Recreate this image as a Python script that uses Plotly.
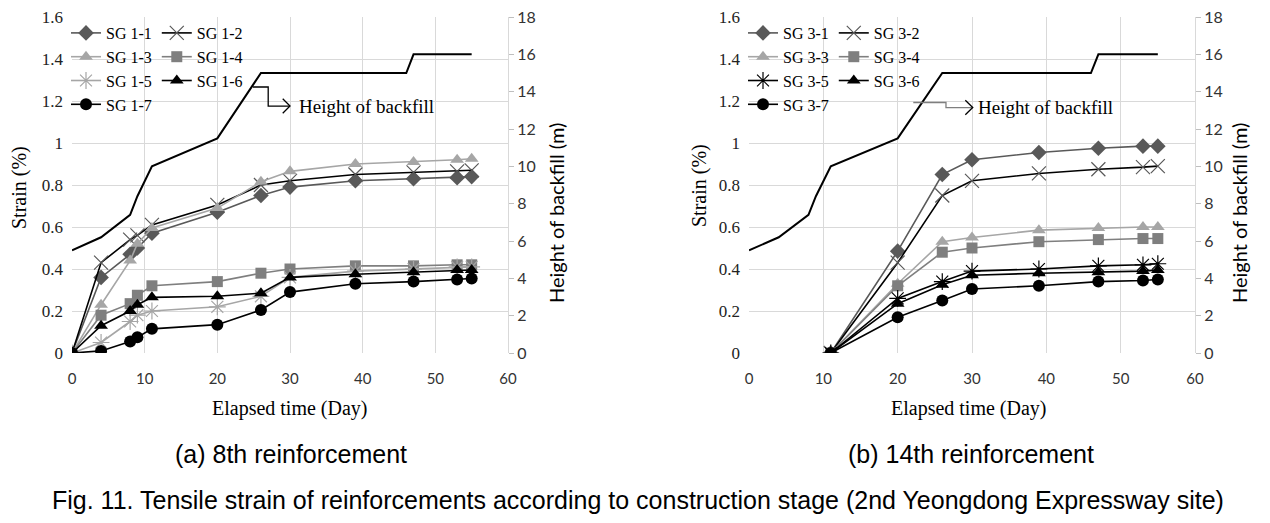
import plotly.graph_objects as go

# ---------------- data ----------------
days_a = [0, 4, 8, 9, 11, 20, 26, 30, 39, 47, 53, 55]
sg1_1 = [0, 0.36, 0.47, 0.50, 0.57, 0.67, 0.75, 0.79, 0.82, 0.83, 0.835, 0.84]
sg1_2 = [0, 0.43, 0.54, 0.56, 0.61, 0.705, 0.80, 0.82, 0.85, 0.86, 0.865, 0.87]
sg1_3 = [0, 0.23, 0.44, 0.52, 0.595, 0.69, 0.815, 0.865, 0.90, 0.91, 0.92, 0.925]
sg1_4 = [0, 0.18, 0.235, 0.275, 0.32, 0.34, 0.38, 0.40, 0.415, 0.415, 0.42, 0.42]
sg1_5 = [0, 0.05, 0.15, 0.18, 0.20, 0.22, 0.27, 0.36, 0.39, 0.40, 0.41, 0.41]
sg1_6 = [0, 0.13, 0.20, 0.23, 0.265, 0.27, 0.285, 0.36, 0.375, 0.385, 0.395, 0.395]
sg1_7 = [0, 0.01, 0.055, 0.075, 0.115, 0.135, 0.205, 0.29, 0.33, 0.34, 0.35, 0.355]

days_b = [11, 20, 26, 30, 39, 47, 53, 55]
sg3_1 = [0, 0.485, 0.85, 0.92, 0.955, 0.975, 0.985, 0.985]
sg3_2 = [0, 0.43, 0.75, 0.82, 0.855, 0.875, 0.885, 0.89]
sg3_3 = [0, 0.33, 0.53, 0.55, 0.585, 0.595, 0.60, 0.60]
sg3_4 = [0, 0.32, 0.48, 0.50, 0.53, 0.54, 0.545, 0.545]
sg3_5 = [0, 0.26, 0.34, 0.39, 0.40, 0.415, 0.42, 0.425]
sg3_6 = [0, 0.235, 0.325, 0.37, 0.38, 0.385, 0.39, 0.395]
sg3_7 = [0, 0.17, 0.25, 0.305, 0.32, 0.34, 0.345, 0.35]

backfill_days = [0, 4, 8, 9, 11, 20, 26, 46, 47, 55]
backfill_height = [5.5, 6.2, 7.4, 8.4, 10, 11.5, 15, 15, 16, 16]

names_a = ["SG 1-1", "SG 1-2", "SG 1-3", "SG 1-4", "SG 1-5", "SG 1-6", "SG 1-7"]
names_b = ["SG 3-1", "SG 3-2", "SG 3-3", "SG 3-4", "SG 3-5", "SG 3-6", "SG 3-7"]

x_ticks = [0, 10, 20, 30, 40, 50, 60]

# ---------------- styles ----------------
DARK, MID, LIGHT, BLACK = "#595959", "#7F7F7F", "#A6A6A6", "#000000"
GRID = "#D9D9D9"

def styles(sg5_color):
    return [
        dict(line=DARK, marker=dict(symbol="diamond", size=12, color=DARK)),
        dict(line=BLACK, marker=dict(symbol="x-thin-open", size=14, color=DARK,
                                     line=dict(color=DARK, width=1.2))),
        dict(line=LIGHT, marker=dict(symbol="triangle-up", size=12, color=LIGHT)),
        dict(line=MID, marker=dict(symbol="square", size=11, color=MID)),
        dict(line=sg5_color, marker=dict(symbol="asterisk-open", size=14, color=sg5_color,
                                         line=dict(color=sg5_color, width=1.2))),
        dict(line=BLACK, marker=dict(symbol="triangle-up", size=12, color=BLACK)),
        dict(line=BLACK, marker=dict(symbol="circle", size=12, color=BLACK)),
    ]

fig = go.Figure()

series_a = [sg1_1, sg1_2, sg1_3, sg1_4, sg1_5, sg1_6, sg1_7]
series_b = [sg3_1, sg3_2, sg3_3, sg3_4, sg3_5, sg3_6, sg3_7]

# backfill lines first (drawn underneath)
fig.add_trace(go.Scatter(x=backfill_days, y=backfill_height, mode="lines",
                         line=dict(color=BLACK, width=2), xaxis="x", yaxis="y2",
                         showlegend=False, hoverinfo="skip"))
fig.add_trace(go.Scatter(x=backfill_days, y=backfill_height, mode="lines",
                         line=dict(color=BLACK, width=2), xaxis="x2", yaxis="y4",
                         showlegend=False, hoverinfo="skip"))

for i, (nm, ys, st) in enumerate(zip(names_a, series_a, styles(LIGHT))):
    fig.add_trace(go.Scatter(x=days_a, y=ys, name=nm, mode="lines+markers",
                             line=dict(color=st["line"], width=1.6), marker=st["marker"],
                             xaxis="x", yaxis="y", legend="legend",
                             legendgroup="a_col1" if i % 2 == 0 else "a_col2"))

for i, (nm, ys, st) in enumerate(zip(names_b, series_b, styles(BLACK))):
    fig.add_trace(go.Scatter(x=days_b, y=ys, name=nm, mode="lines+markers",
                             line=dict(color=st["line"], width=1.6), marker=st["marker"],
                             xaxis="x2", yaxis="y3", legend="legend2",
                             legendgroup="b_col1" if i % 2 == 0 else "b_col2"))

W, H = 1270, 523
def px_x(p):
    return p / W
def px_y(p):
    return 1 - p / H

y_dom = [px_y(353), px_y(17)]
serif = "Liberation Serif, Times New Roman, serif"
sans = "Lato, Carlito, Liberation Sans, sans-serif"

xaxis_common = dict(range=[0, 60], tickvals=x_ticks, showgrid=True, gridcolor=GRID,
                    zeroline=False, showline=False, ticks="", ticklabelstandoff=15,
                    automargin=False,
                    tickfont=dict(family=sans, size=15, color="#333333"))
y_left_common = dict(range=[0, 1.6], dtick=0.2, showgrid=True, gridcolor=GRID,
                     zeroline=False, showline=False, ticks="", ticklabelstandoff=8,
                     automargin=False,
                     tickfont=dict(family=serif, size=17, color="#222222"), domain=y_dom)
y_right_common = dict(range=[0, 18], dtick=2, showgrid=False, zeroline=False,
                      showline=True, linecolor=GRID, linewidth=1, side="right",
                      ticks="outside", ticklen=5, tickcolor="#BFBFBF", automargin=False,
                      tickfont=dict(family=sans, size=16, color="#333333"))

legend_common = dict(orientation="h", traceorder="grouped", bgcolor="rgba(0,0,0,0)",
                     font=dict(family=serif, size=16, color="#000000"),
                     xanchor="left", yanchor="top", itemwidth=30, tracegroupgap=0)

fig.update_layout(
    width=W, height=H, margin=dict(l=0, r=0, t=0, b=0, autoexpand=False),
    paper_bgcolor="white", plot_bgcolor="white",
    xaxis=dict(domain=[px_x(72), px_x(508)], anchor="y", **xaxis_common),
    yaxis=dict(anchor="x", **y_left_common),
    yaxis2=dict(overlaying="y", anchor="x", **y_right_common),
    xaxis2=dict(domain=[px_x(749), px_x(1195)], anchor="y3", **xaxis_common),
    yaxis3=dict(anchor="x2", **y_left_common),
    yaxis4=dict(overlaying="y3", anchor="x2", **y_right_common),
    legend=dict(x=px_x(66), y=px_y(16), **legend_common),
    legend2=dict(x=px_x(743), y=px_y(16), **legend_common),
    showlegend=True,
)

# ---------------- text ----------------
ann = []
def title(text, x, y, family, size, angle=0):
    ann.append(dict(text=text, x=x, y=y, xref="paper", yref="paper", showarrow=False,
                    textangle=angle, font=dict(family=family, size=size, color="#000000"),
                    xanchor="center", yanchor="middle"))

title("Strain (%)", px_x(19), px_y(188), serif, 20, -90)
title("Strain (%)", px_x(700), px_y(186), serif, 20, -90)
title("Height of backfill (m)", px_x(556), px_y(213), sans, 20, -90)
title("Height of backfill (m)", px_x(1239), px_y(213), sans, 20, -90)
title("Elapsed time (Day)", px_x(290), px_y(408), serif, 20)
title("Elapsed time (Day)", px_x(969), px_y(408), serif, 20)
cap_font = "Liberation Sans, Arial, sans-serif"
title("(a) 8th reinforcement", px_x(291), px_y(454), cap_font, 25)
title("(b) 14th reinforcement", px_x(971), px_y(454), cap_font, 25)
title("Fig. 11. Tensile strain of reinforcements according to construction stage (2nd Yeongdong Expressway site)",
      px_x(638), px_y(500), cap_font, 25)

# "Height of backfill" callouts (axis coordinates)
ann.append(dict(text="Height of backfill", x=31.0, y=13.2, xref="x", yref="y2",
                showarrow=False, xanchor="left", yanchor="middle",
                font=dict(family=serif, size=19, color="#000000")))
ann.append(dict(text="Height of backfill", x=30.6, y=13.15, xref="x2", yref="y4",
                showarrow=False, xanchor="left", yanchor="middle",
                font=dict(family=serif, size=19, color="#000000")))
fig.update_layout(annotations=ann)

shapes = [
    dict(type="path", xref="x", yref="y2",
         path="M 24.9 14.25 L 27.0 14.25 L 27.0 13.23 L 30.0 13.23",
         line=dict(color=BLACK, width=1.3)),
    dict(type="path", xref="x", yref="y2",
         path="M 29.0 13.62 L 30.0 13.23 L 29.0 12.84",
         line=dict(color=BLACK, width=1.3)),
    dict(type="path", xref="x2", yref="y4",
         path="M 22.1 13.42 L 26.5 13.42 L 26.5 13.15 L 30.1 13.15",
         line=dict(color="#7F7F7F", width=1.3)),
    dict(type="path", xref="x2", yref="y4",
         path="M 29.1 13.54 L 30.1 13.15 L 29.1 12.76",
         line=dict(color=BLACK, width=1.3)),
]
fig.update_layout(shapes=shapes)

fig.write_html("out.html", config={"displayModeBar": False},
               post_script="document.body.style.margin='0';document.body.style.overflow='hidden';")
